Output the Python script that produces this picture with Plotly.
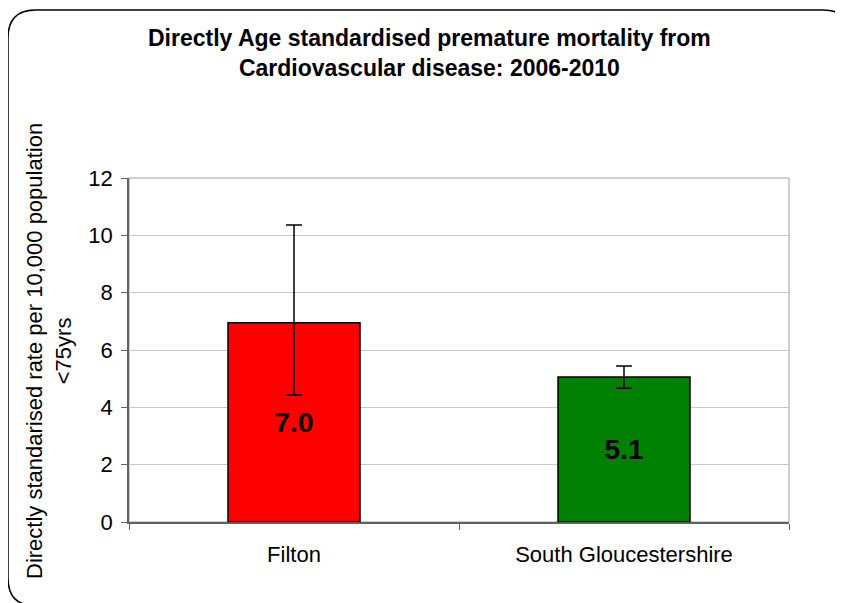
import plotly.graph_objects as go

categories = ["Filton", "South Gloucestershire"]
values = [6.95, 5.06]
err_plus = [3.41, 0.38]
err_minus = [2.52, 0.39]
labels = ["7.0", "5.1"]
colors = ["#ff0000", "#008000"]
y_ticks = [0, 2, 4, 6, 8, 10, 12]

W, H = 843, 603
OFF = 8  # page body offset
L, R, T, B = 129 - OFF, 789 - OFF, 178 - OFF, 522 - OFF
FONT = "Liberation Sans, Arial"

fig = go.Figure()
fig.add_trace(go.Bar(
    x=categories, y=values, text=labels,
    textposition="inside", insidetextanchor="middle",
    texttemplate="<b>%{text}</b>",
    textfont=dict(family=FONT, size=28, color="black"),
    textangle=0,
    marker=dict(color=colors, line=dict(color="black", width=1.5)),
    error_y=dict(type="data", symmetric=False, array=err_plus, arrayminus=err_minus,
                 color="black", thickness=1.5, width=8),
    width=0.4,
))

def px(x):
    return (x - OFF - L) / (R - L)

def py(y):
    return (B - (y - OFF)) / (B - T)

# rounded outer border
x0, y0, x1, y1, r = 8, 10, 851, 606, 28
path = (f"M {px(x0+r)},{py(y0)} L {px(x1-r)},{py(y0)} "
        f"Q {px(x1)},{py(y0)} {px(x1)},{py(y0+r)} L {px(x1)},{py(y1-r)} "
        f"Q {px(x1)},{py(y1)} {px(x1-r)},{py(y1)} L {px(x0+r)},{py(y1)} "
        f"Q {px(x0)},{py(y1)} {px(x0)},{py(y1-r)} L {px(x0)},{py(y0+r)} "
        f"Q {px(x0)},{py(y0)} {px(x0+r)},{py(y0)} Z")
fig.add_shape(type="path", path=path, xref="paper", yref="paper",
              line=dict(color="black", width=1.5), layer="below")

# plot area border
fig.add_shape(type="rect", x0=0, x1=1, y0=0, y1=1, xref="paper", yref="paper",
              line=dict(color="#a0a0a0", width=1), layer="below")

fig.add_annotation(text="<b>Directly Age standardised premature mortality from<br>Cardiovascular disease: 2006-2010</b>",
                   x=px(429), y=py(53), xref="paper", yref="paper", showarrow=False,
                   xanchor="center", yanchor="middle",
                   font=dict(family=FONT, size=23, color="black"),
                   align="center")
fig.add_annotation(text="Directly standarised rate per 10,000 population<br><75yrs",
                   x=px(49), y=py(351), xref="paper", yref="paper", showarrow=False,
                   xanchor="center", yanchor="middle",
                   textangle=-90,
                   font=dict(family=FONT, size=22, color="black"),
                   align="center")

fig.update_layout(
    width=W, height=H,
    margin=dict(l=L, r=W - R, t=T, b=H - B),
    paper_bgcolor="white", plot_bgcolor="white",
    showlegend=False,
    font=dict(family=FONT, size=22, color="black"),
)
fig.update_yaxes(range=[0, 12], tickvals=y_ticks, showgrid=True, gridcolor="#c8c8c8",
                 showline=True, linecolor="#606060", linewidth=1.5,
                 ticks="outside", ticklen=6, tickcolor="#606060", zeroline=False,
                 ticklabelstandoff=4,
                 tickfont=dict(size=22))
fig.update_xaxes(showline=True, linecolor="#606060", linewidth=1.5,
                 ticks="outside", tickson="boundaries", ticklen=6, tickcolor="#606060",
                 ticklabelstandoff=12,
                 tickfont=dict(size=22))

fig.write_html("out.html")
